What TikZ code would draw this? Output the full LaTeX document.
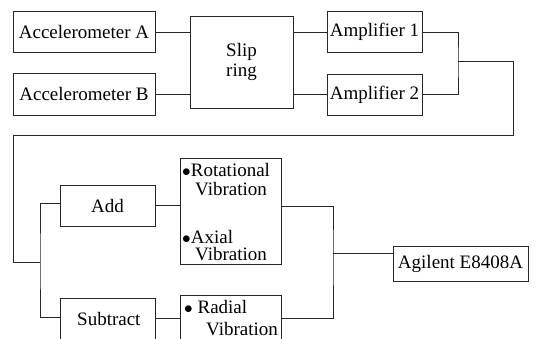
\documentclass[tikz,border=0pt]{standalone}
\usepackage{fontspec}
\setmainfont{Liberation Serif}
\begin{document}
\begin{tikzpicture}[x=1pt,y=-1pt,
  box/.style={draw=black!85,line width=0.8pt,inner sep=0pt,rectangle},
  wire/.style={draw=black!85,line width=0.8pt},
  lbl/.style={inner sep=0pt,font=\fontsize{19}{20}\selectfont},
  lft/.style={lbl,anchor=base west}]
\useasboundingbox (0,0) rectangle (536,338);
\clip (0,0) rectangle (536,338);
% boxes
\node[box,minimum width=142pt,minimum height=41pt] (accA) at (84,31.5) {};
\node[lbl] (accAt) at (84,31.5) {Accelerometer A};
\node[box,minimum width=142pt,minimum height=42pt] (accB) at (84,94) {};
\node[lbl] (accBt) at (84,94) {Accelerometer B};
\node[box,minimum width=103pt,minimum height=92pt] (slip) at (241.5,62) {};
\node[lbl,align=center] (slipt) at (241.5,62) {Slip\\ring};
\node[box,minimum width=95pt,minimum height=41pt] (amp1) at (374.5,31.5) {};
\node[lbl] (amp1t) at (374.5,31.5) {Amplifier 1};
\node[box,minimum width=95pt,minimum height=41pt] (amp2) at (374.5,94.5) {};
\node[lbl] (amp2t) at (374.5,94.5) {Amplifier 2};
\node[box,minimum width=95pt,minimum height=41pt] (add) at (107.5,205.5) {};
\node[lbl] (addt) at (107.5,205.5) {Add};
\node[box,minimum width=95pt,minimum height=52pt] (sub) at (107.5,324) {};
\node[lft] (subt) at (77,325) {Subtract};
\node[box,minimum width=101pt,minimum height=106pt] (rot) at (230.5,211) {};
\node[lft] (r1) at (182,176) {$\bullet$Rotational};
\node[lft] (r2) at (195,195) {Vibration};
\node[lft] (r3) at (182,243) {$\bullet$Axial};
\node[lft] (r4) at (195,260) {Vibration};
\node[box,minimum width=101pt,minimum height=56pt] (rad) at (230.5,323) {};
\node[lft] (d1) at (184,313) {$\bullet$ Radial};
\node[lft] (d2) at (206,335) {Vibration};
\node[box,minimum width=135pt,minimum height=35pt] (ag) at (460.5,263.5) {};
\node[lbl] (agt) at (460.5,263.5) {Agilent E8408A};
% junction coordinates
\coordinate (j1) at (458,61);
\coordinate (c1) at (513,61);
\coordinate (c2) at (513,135);
\coordinate (c3) at (13,135);
\coordinate (c4) at (13,262);
\coordinate (j2) at (40,262);
\coordinate (j3) at (333,253);
% connectors
\draw[wire] (accA.east |- 0,32) -- (slip.west |- 0,32);
\draw[wire] (accB.east |- 0,94) -- (slip.west |- 0,94);
\draw[wire] (slip.east |- 0,32) -- (amp1.west |- 0,32);
\draw[wire] (slip.east |- 0,94) -- (amp2.west |- 0,94);
\draw[wire] (amp1.east |- 0,32) -| (j1) |- (amp2.east |- 0,94);
\draw[wire] (j1) -- (c1) -- (c2) -- (c3) -- (c4) -- (j2);
\draw[wire] (add.west |- 0,203) -| (j2) |- (sub.west |- 0,317);
\draw[wire] (add.east) -- (rot.west |- add.east);
\draw[wire] (sub.east |- 0,318) -- (rad.west |- 0,318);
\draw[wire] (rot.east |- 0,206) -| (j3) |- (rad.east |- 0,318);
\draw[wire] (j3) -- (ag.west |- j3);
\end{tikzpicture}
\end{document}
